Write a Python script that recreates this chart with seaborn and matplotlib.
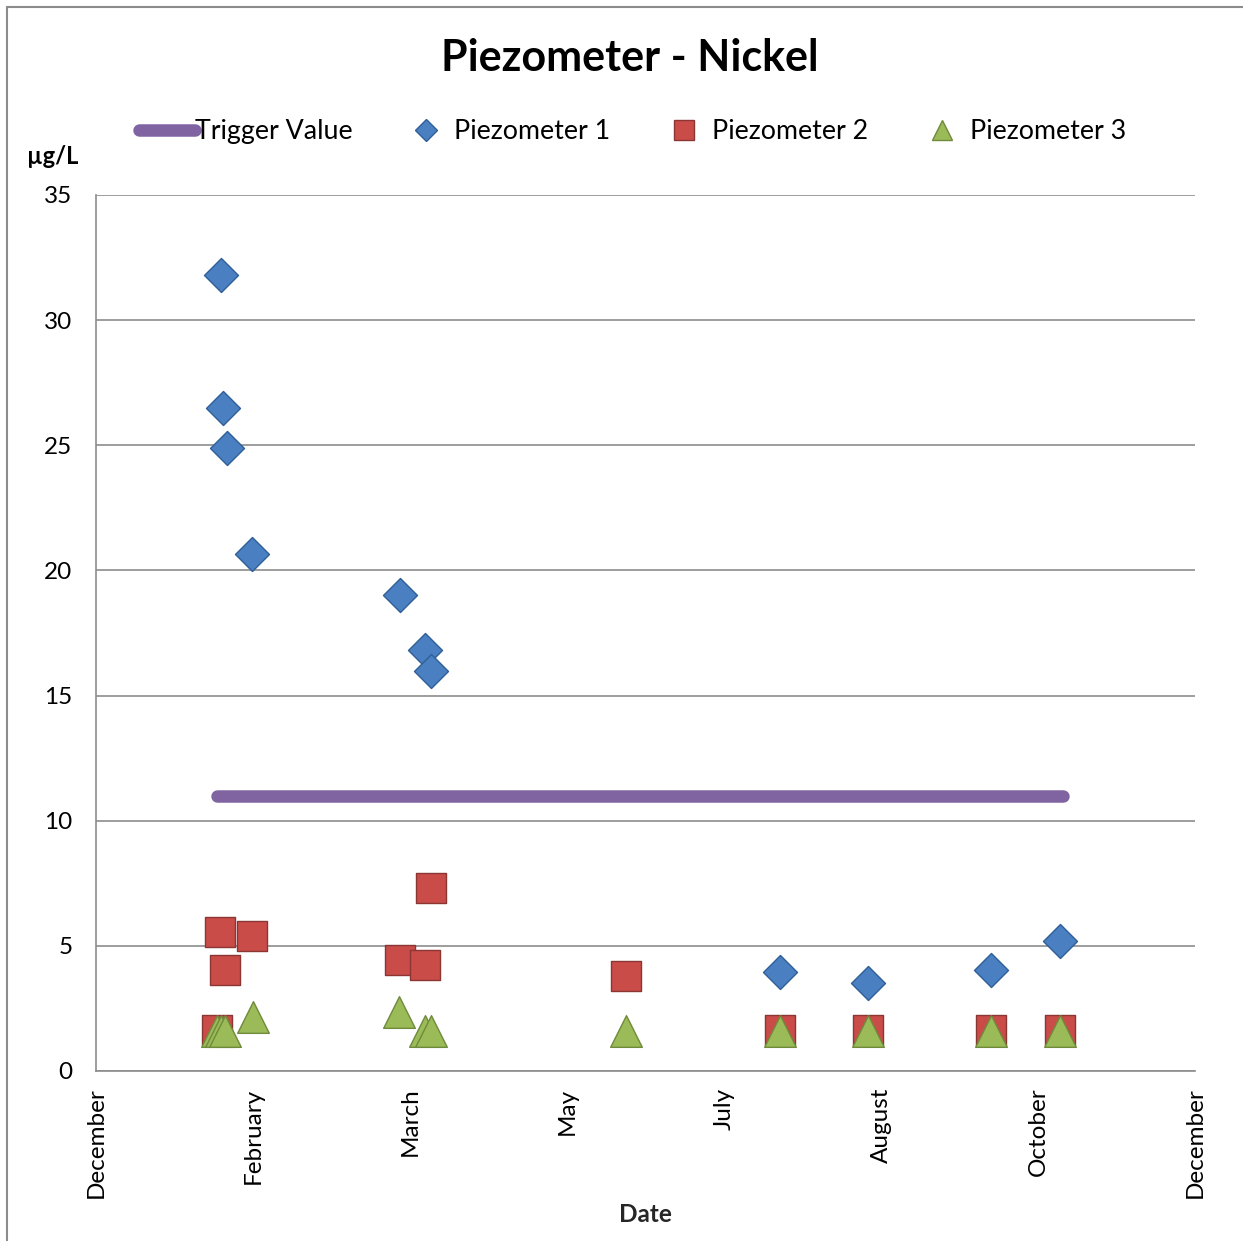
import pandas as pd
import matplotlib.pyplot as plt
import seaborn as sns
from matplotlib.lines import Line2D
from matplotlib.patches import Rectangle

# ---------------- data (days from the first December tick) ----------------
tick_days = [0, 50, 100, 150, 200, 250, 300, 350]
tick_labels = ["December", "February", "March", "May", "July", "August", "October", "December"]

trigger_days = [38.5, 308.0]
trigger_vals = [11.0, 11.0]

p1_days = [39.8, 40.4, 41.7, 49.7, 96.8, 104.8, 106.7, 217.8, 245.9, 285.0, 307.0]
p1_vals = [31.8, 26.5, 24.9, 20.65, 19.0, 16.8, 16.0, 3.95, 3.5, 4.05, 5.2]

p2_days = [38.5, 39.5, 41.1, 49.7, 96.8, 104.8, 106.7, 168.8, 217.8, 245.9, 285.0, 307.0]
p2_vals = [1.65, 5.55, 4.05, 5.4, 4.45, 4.25, 7.3, 3.8, 1.65, 1.65, 1.65, 1.65]

p3_days = [38.5, 39.8, 41.1, 50.0, 96.5, 104.8, 106.7, 168.8, 217.8, 245.9, 285.0, 307.0]
p3_vals = [1.6, 1.6, 1.6, 2.15, 2.35, 1.6, 1.6, 1.6, 1.6, 1.6, 1.6, 1.6]

trigger = pd.DataFrame({"day": trigger_days, "value": trigger_vals})
p1 = pd.DataFrame({"day": p1_days, "value": p1_vals})
p2 = pd.DataFrame({"day": p2_days, "value": p2_vals})
p3 = pd.DataFrame({"day": p3_days, "value": p3_vals})

sns.set_theme(style="white")
plt.rcParams["font.family"] = ["Lato", "DejaVu Sans"]
plt.rcParams["text.color"] = "black"
plt.rcParams["xtick.color"] = "black"
plt.rcParams["ytick.color"] = "black"

fig = plt.figure(figsize=(12.43, 12.41), dpi=100)
ax = fig.add_axes([0.0772, 0.137, 0.8842, 0.7059])

purple = "#8064A2"
blue, blue_e = "#4A7FC1", "#2F5F98"
red, red_e = "#C94C48", "#8C3634"
green, green_e = "#9BBB59", "#6E8A3A"

sns.lineplot(data=trigger, x="day", y="value", ax=ax, color=purple, lw=9,
             solid_capstyle="round", zorder=2)
sns.scatterplot(data=p1, x="day", y="value", ax=ax, marker="D", s=300,
                color=blue, edgecolor=blue_e, linewidth=1, zorder=3)
sns.scatterplot(data=p2, x="day", y="value", ax=ax, marker="s", s=460,
                color=red, edgecolor=red_e, linewidth=1, zorder=4)
sns.scatterplot(data=p3, x="day", y="value", ax=ax, marker="^", s=520,
                color=green, edgecolor=green_e, linewidth=1, zorder=5)

ax.set_xlim(0, 350)
ax.set_ylim(0, 35)
ax.set_xticks(tick_days)
ax.set_xticklabels(tick_labels, rotation=90, fontsize=17.5)
ax.set_yticks(range(0, 36, 5))
ax.tick_params(axis="y", labelsize=17.5, length=8, color="#8c8c8c", direction="out", pad=9)
ax.tick_params(axis="x", length=8, color="#8c8c8c", direction="out", pad=4)
ax.yaxis.grid(True, color="#8c8c8c", lw=1.2)
ax.xaxis.grid(False)
for s in ["top", "right"]:
    ax.spines[s].set_visible(False)
for s in ["left", "bottom"]:
    ax.spines[s].set_color("#8c8c8c")
    ax.spines[s].set_linewidth(1.2)
ax.set_xlabel("Date", fontsize=17.5, fontweight="bold", labelpad=3)
ax.set_ylabel("")

fig.text(0.507, 0.953, "Piezometer - Nickel", ha="center", va="center",
         fontsize=31, fontweight="bold")
fig.text(0.022, 0.874, "µg/L", ha="left", va="center", fontsize=17, fontweight="bold")

handles = [
    Line2D([], [], color=purple, lw=9, solid_capstyle="round"),
    Line2D([], [], ls="", marker="D", ms=11, color=blue, mec=blue_e),
    Line2D([], [], ls="", marker="s", ms=14, color=red, mec=red_e),
    Line2D([], [], ls="", marker="^", ms=15, color=green, mec=green_e),
]
labels = ["Trigger Value", "Piezometer 1", "Piezometer 2", "Piezometer 3"]
fig.legend(handles, labels, loc="center", bbox_to_anchor=(0.509, 0.894), ncol=4,
           frameon=False, fontsize=19.3, handlelength=2.1, handletextpad=0.0,
           columnspacing=1.7)

fig.add_artist(Rectangle((0.006, -0.01), 1.1, 1.004, transform=fig.transFigure,
                         fill=False, edgecolor="#8c8c8c", lw=1.5))

fig.savefig("out.png", dpi=100)
